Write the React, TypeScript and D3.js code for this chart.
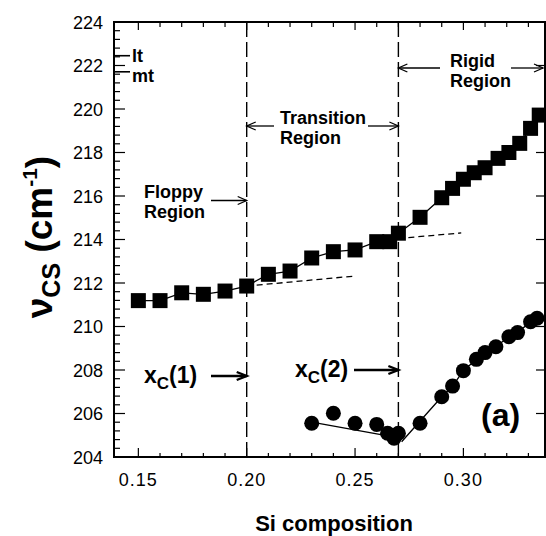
import React from "react";
import * as d3 from "d3";

// Data
const squareX = [0.15, 0.16, 0.17, 0.18, 0.19, 0.2, 0.21, 0.22, 0.23, 0.24, 0.25, 0.26, 0.266, 0.27, 0.28, 0.29, 0.295, 0.3, 0.305, 0.31, 0.316, 0.321, 0.326, 0.331, 0.335];
const squareY = [211.19, 211.19, 211.55, 211.48, 211.63, 211.86, 212.4, 212.55, 213.15, 213.44, 213.52, 213.9, 213.9, 214.29, 215.02, 215.92, 216.35, 216.77, 217.07, 217.3, 217.73, 218.0, 218.42, 219.11, 219.72];

const circleX = [0.23, 0.24, 0.25, 0.26, 0.265, 0.268, 0.27, 0.28, 0.29, 0.295, 0.3, 0.306, 0.31, 0.315, 0.321, 0.325, 0.331, 0.334];
const circleY = [205.55, 206.01, 205.55, 205.5, 205.09, 204.86, 205.09, 205.55, 206.77, 207.26, 207.97, 208.49, 208.8, 209.07, 209.53, 209.72, 210.22, 210.38];

// fit lines
const circleFitA = [[0.23, 205.6], [0.2677, 204.93]];
const circleFitBStart = [0.2715, 204.7];
const dashFit1 = [[0.2, 211.86], [0.25, 212.32]];
const dashFit2 = [[0.27, 214.05], [0.299, 214.3]];

const xTickLabels = [0.15, 0.2, 0.25, 0.3];
const yTickLabels = [204, 206, 208, 210, 212, 214, 216, 218, 220, 222, 224];
const boundaries = [0.2, 0.27];
const ltValue = 222.45;
const mtValue = 221.71;

const W = 546;
const H = 536;
const FONT = "'Liberation Sans', Arial, Helvetica, sans-serif";

export default function App() {
  const x = d3.scaleLinear().domain([0.13876, 0.33766]).range([114, 545]);
  const y = d3.scaleLinear().domain([204, 224]).range([457, 22]);
  const [x0, x1] = x.range();
  const [yb, yt] = y.range();

  const line = d3
    .line<[number, number]>()
    .x((d) => x(d[0]))
    .y((d) => y(d[1]));

  const squares: [number, number][] = squareX.map((v, i) => [v, squareY[i]]);
  const circles: [number, number][] = circleX.map((v, i) => [v, circleY[i]]);
  const fitB: [number, number][] = [circleFitBStart as [number, number], ...circles.slice(8)];

  const xMinor = d3.range(15, 34).map((k) => k / 100);
  const yMinor = d3.range(0, 51).map((k) => 204 + k * 0.4);

  const arrow = (xa: number, xb: number, yy: number, sw = 1.3, hl = 9, hw = 4) => {
    const dir = xb > xa ? 1 : -1;
    return (
      <g stroke="#000" strokeWidth={sw} fill="none">
        <line x1={xa} y1={yy} x2={xb} y2={yy} />
        <path d={`M${xb - dir * hl},${yy - hw} L${xb},${yy} L${xb - dir * hl},${yy + hw}`} />
      </g>
    );
  };

  const sq = 15;
  const cr = 7.5;

  return (
    <svg width={W} height={H} style={{ position: "absolute", left: 0, top: 0, background: "#fff" }} fontFamily={FONT}>
      <rect width={W} height={H} fill="#fff" />
      {/* vertical boundaries */}
      {boundaries.map((b) => (
        <line key={b} x1={x(b)} x2={x(b)} y1={yt} y2={yb} stroke="#000" strokeWidth={1.4} strokeDasharray="15,5" />
      ))}
      {/* dashed extrapolations */}
      <path d={line(dashFit1 as [number, number][]) || ""} stroke="#000" strokeWidth={1.3} fill="none" strokeDasharray="6,4" />
      <path d={line(dashFit2 as [number, number][]) || ""} stroke="#000" strokeWidth={1.3} fill="none" strokeDasharray="6,4" />
      {/* solid lines */}
      <path d={line(squares) || ""} stroke="#000" strokeWidth={1.3} fill="none" />
      <path d={line(circleFitA as [number, number][]) || ""} stroke="#000" strokeWidth={1.3} fill="none" />
      <path d={line(fitB) || ""} stroke="#000" strokeWidth={1.3} fill="none" />
      {/* markers */}
      {squares.map((d, i) => (
        <rect key={"s" + i} x={x(d[0]) - sq / 2} y={y(d[1]) - sq / 2} width={sq} height={sq} fill="#000" />
      ))}
      {circles.map((d, i) => (
        <circle key={"c" + i} cx={x(d[0])} cy={y(d[1])} r={cr} fill="#000" />
      ))}

      {/* frame */}
      <rect x={x0} y={yt} width={x1 - x0} height={yb - yt} fill="none" stroke="#000" strokeWidth={2} />
      {/* x ticks bottom & top */}
      {xMinor.map((v) => {
        const major = xTickLabels.some((t) => Math.abs(t - v) < 1e-9);
        const len = major ? 9 : 4;
        return (
          <g key={"xt" + v} stroke="#000" strokeWidth={1.2}>
            <line x1={x(v)} x2={x(v)} y1={yb} y2={yb - len} />
            <line x1={x(v)} x2={x(v)} y1={yt} y2={yt + (major ? 8 : 5)} />
          </g>
        );
      })}
      {/* y ticks left & right */}
      {yMinor.map((v) => {
        const major = Math.abs(v / 2 - Math.round(v / 2)) < 1e-6;
        return (
          <g key={"yt" + v} stroke="#000" strokeWidth={1.2}>
            <line x1={x0} x2={x0 + (major ? 11 : 6)} y1={y(v)} y2={y(v)} />
            {major && <line x1={x1} x2={x1 - 9} y1={y(v)} y2={y(v)} />}
          </g>
        );
      })}
      {/* lt / mt markers */}
      <g stroke="#000" strokeWidth={1.6}>
        <line x1={x0} x2={x0 + 16} y1={y(ltValue)} y2={y(ltValue)} />
        <line x1={x0} x2={x0 + 16} y1={y(mtValue)} y2={y(mtValue)} />
      </g>
      <text x={x0 + 18} y={y(ltValue) + 6} fontSize={18} fontWeight="bold">lt</text>
      <text x={x0 + 18} y={y(mtValue) + 10} fontSize={18} fontWeight="bold">mt</text>

      {/* tick labels */}
      {yTickLabels.map((v) => (
        <text key={"yl" + v} x={103} y={y(v) + 6.5} fontSize={18} textAnchor="end">{v}</text>
      ))}
      {xTickLabels.map((v) => (
        <text key={"xl" + v} x={x(v)} y={486} fontSize={18} textAnchor="middle" letterSpacing={1}>{v.toFixed(2)}</text>
      ))}

      {/* axis titles */}
      <text x={334} y={531} fontSize={22} fontWeight="bold" textAnchor="middle">Si composition</text>
      <text transform="translate(52,237) rotate(-90)" fontSize={37} fontWeight="bold" textAnchor="middle">
        ν<tspan fontSize={25} dy={8}>CS</tspan>
        <tspan dy={-8}> (cm</tspan>
        <tspan fontSize={21} dy={-15}>-1</tspan>
        <tspan dy={15}>)</tspan>
      </text>

      {/* region annotations */}
      <text x={144} y={198} fontSize={18} fontWeight="bold">Floppy</text>
      <text x={144} y={218} fontSize={18} fontWeight="bold">Region</text>
      {arrow(211, x(0.2), 200.5)}

      <text x={280} y={124} fontSize={18} fontWeight="bold">Transition</text>
      <text x={280} y={144} fontSize={18} fontWeight="bold">Region</text>
      {arrow(274, x(0.2), 126)}
      {arrow(368, x(0.27), 126)}

      <text x={450} y={67} fontSize={18} fontWeight="bold">Rigid</text>
      <text x={450} y={87} fontSize={18} fontWeight="bold">Region</text>
      {arrow(440, x(0.27), 68)}
      {arrow(511, 543, 68)}

      {/* critical compositions */}
      <text x={144} y={383} fontSize={23} fontWeight="bold">
        x<tspan fontSize={17} dy={6}>C</tspan><tspan dy={-6}>(1)</tspan>
      </text>
      {arrow(211, x(0.2), 376, 2.4, 10, 4)}
      <text x={295} y={377} fontSize={23} fontWeight="bold">
        x<tspan fontSize={17} dy={6}>C</tspan><tspan dy={-6}>(2)</tspan>
      </text>
      {arrow(354, x(0.27), 370, 2.4, 10, 4)}

      <text x={481} y={426} fontSize={32} fontWeight="bold">(a)</text>
    </svg>
  );
}
